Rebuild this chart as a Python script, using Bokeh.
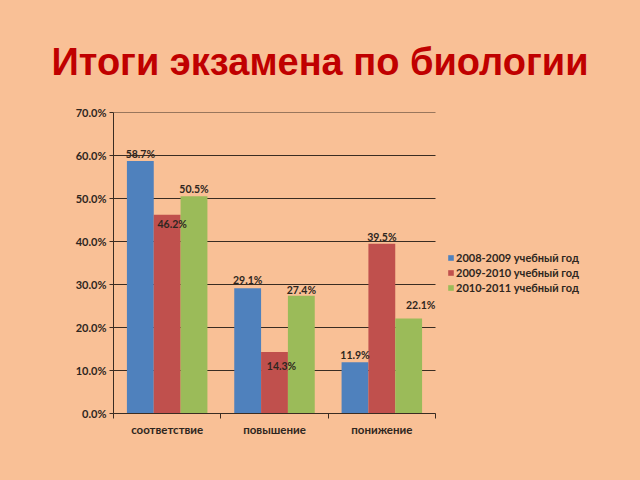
from bokeh.plotting import figure
from bokeh.models import ColumnDataSource, FixedTicker, PrintfTickFormatter, Legend, LegendItem, Div
from bokeh.layouts import column
from bokeh.core.properties import value
from bokeh.embed import file_html
from bokeh.resources import INLINE

title = "Итоги экзамена по биологии"
categories = ["соответствие", "повышение", "понижение"]
series_names = ["2008-2009 учебный год", "2009-2010 учебный год", "2010-2011 учебный год"]
s2008 = [58.7, 29.1, 11.9]
s2009 = [46.2, 14.3, 39.5]
s2010 = [50.5, 27.4, 22.1]
y_ticks = [0, 10, 20, 30, 40, 50, 60, 70]

series = [s2008, s2009, s2010]
colors = ["#4F81BD", "#C0504D", "#9BBB59"]
dodges = [-0.25, 0.0, 0.25]
bar_w = 0.25
label_dx = [[0, 0, 0], [5, 7, 0], [0, 0, 12]]
label_dy = [[-7, -8, -7], [9, 14, -7], [-7, -6, -13]]

BG = "#F9C096"
DARK = "#3a2c22"
FONT = "Lato"
TITLE_H = 100
LEFT, RIGHT = 113, 5
PLOT_W = 322  # pixel width of the category area
FRAME_W = 640 - LEFT - RIGHT
ncat = len(categories)

p = figure(width=640, height=480 - TITLE_H, output_backend="svg", toolbar_location=None,
           x_range=(0, ncat * FRAME_W / PLOT_W), y_range=(0, 70),
           min_border_left=LEFT, min_border_right=RIGHT, min_border_top=112 - TITLE_H, min_border_bottom=67,
           background_fill_color=BG, border_fill_color=BG, outline_line_color=None)

# horizontal grid lines across the category area only
p.segment(x0=[0] * len(y_ticks), x1=[ncat] * len(y_ticks), y0=y_ticks, y1=y_ticks,
          line_color=DARK, line_width=1.2)

items = []
sources = []
for i, vals in enumerate(series):
    xs = [k + 0.5 + dodges[i] for k in range(ncat)]
    src = ColumnDataSource(dict(x=xs, top=vals,
                                txt=["%.1f%%" % v for v in vals],
                                dx=label_dx[i], dy=label_dy[i]))
    sources.append(src)
    r = p.vbar(x="x", top="top", width=bar_w, source=src, fill_color=colors[i], line_color=None)
    items.append(LegendItem(label=series_names[i], renderers=[r]))

for src in sources:
    p.text(x="x", y="top", text="txt", source=src, x_offset="dx", y_offset="dy",
           text_align="center", text_baseline="middle", text_font=value(FONT),
           text_font_style="bold", text_font_size="10.5px", text_color="#2e2620")

legend = Legend(items=items, location=(334, 119), background_fill_alpha=0, border_line_color=None,
                label_text_font=FONT, label_text_font_style="bold", label_text_font_size="11px",
                label_text_color="#2e2620", glyph_width=7, glyph_height=7, label_height=12,
                spacing=2, padding=0, margin=0, label_standoff=2)
p.add_layout(legend)

p.xgrid.grid_line_color = None
p.ygrid.grid_line_color = None

p.yaxis.ticker = FixedTicker(ticks=y_ticks)
p.yaxis.formatter = PrintfTickFormatter(format="%.1f%%")
p.yaxis.axis_line_color = DARK
p.yaxis.major_tick_line_color = DARK
p.yaxis.major_tick_out = 4
p.yaxis.major_tick_in = 0
p.yaxis.minor_tick_line_color = None
p.yaxis.major_label_text_font = FONT
p.yaxis.major_label_text_font_style = "bold"
p.yaxis.major_label_text_font_size = "11px"
p.yaxis.major_label_text_color = "#2e2620"
p.yaxis.major_label_standoff = 3

p.xaxis.bounds = (0, ncat)
p.xaxis.ticker = FixedTicker(ticks=[k + 0.5 for k in range(ncat)],
                             minor_ticks=list(range(ncat + 1)))
p.xaxis.major_label_overrides = {k + 0.5: c for k, c in enumerate(categories)}
p.xaxis.axis_line_color = DARK
p.xaxis.major_tick_line_color = None
p.xaxis.minor_tick_line_color = DARK
p.xaxis.minor_tick_out = 5
p.xaxis.minor_tick_in = 0
p.xaxis.major_label_text_font = FONT
p.xaxis.major_label_text_font_style = "bold"
p.xaxis.major_label_text_font_size = "11.5px"
p.xaxis.major_label_text_color = "#2e2620"
p.xaxis.major_label_standoff = 3

head = Div(text=title, width=640, height=TITLE_H,
           styles={"font-family": "Liberation Sans", "font-weight": "bold", "font-size": "38px",
                   "color": "#C00000", "text-align": "center", "line-height": "1",
                   "padding-top": "43px", "box-sizing": "border-box", "width": "640px",
                   "background-color": BG, "margin": "0"})

layout = column(head, p, spacing=0, styles={"background-color": BG})
open("out.html", "w").write(file_html(layout, INLINE))
